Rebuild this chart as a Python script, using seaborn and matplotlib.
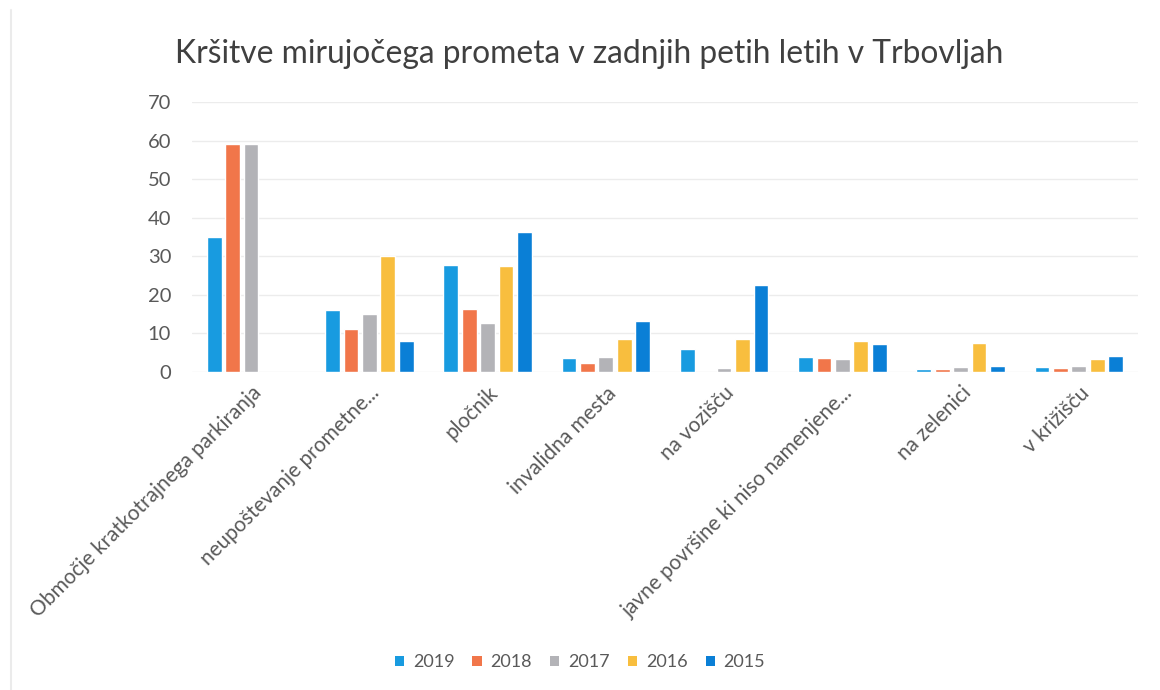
import matplotlib
matplotlib.use("Agg")
import matplotlib.pyplot as plt
import seaborn as sns
import pandas as pd
from matplotlib.lines import Line2D
from matplotlib.patches import Patch

categories = [
    "Območje kratkotrajnega parkiranja",
    "neupoštevanje prometne...",
    "pločnik",
    "invalidna mesta",
    "na vozišču",
    "javne površine ki niso namenjene...",
    "na zelenici",
    "v križišču",
]
years = ["2019", "2018", "2017", "2016", "2015"]
v2019 = [35, 16, 27.6, 3.6, 5.9, 3.8, 0.7, 1.3]
v2018 = [59, 11, 16.4, 2.2, 0, 3.5, 0.8, 1]
v2017 = [59, 15, 12.7, 3.8, 1, 3.2, 1.1, 1.5]
v2016 = [0, 30, 27.5, 8.5, 8.4, 8.1, 7.4, 3.2]
v2015 = [0, 8, 36.4, 13.2, 22.4, 7.1, 1.5, 4.1]
colors = ["#189be0", "#f1764a", "#b3b3b7", "#f8be3e", "#0a7fd6"]

series = {"2019": v2019, "2018": v2018, "2017": v2017, "2016": v2016, "2015": v2015}
rows = []
for y in years:
    for c, v in zip(categories, series[y]):
        rows.append({"cat": c, "year": y, "val": v})
df = pd.DataFrame(rows)

sns.set_theme(style="white")
plt.rcParams["font.family"] = ["Lato", "DejaVu Sans"]

fig = plt.figure(figsize=(11.6, 6.9), dpi=100)
ax = fig.add_axes([0.1655, 0.4613, 0.8155, 0.3907])
sns.barplot(data=df, x="cat", y="val", hue="year", hue_order=years,
            order=categories, palette=colors, saturation=1,
            width=0.78, gap=0.2, ax=ax, legend=False, errorbar=None)

ax.set_ylim(0, 70)
ax.set_yticks(range(0, 71, 10))
ax.set_xlim(-0.5, len(categories) - 0.5)
ax.yaxis.grid(True, color="#ececec", linewidth=1)
ax.set_axisbelow(True)
for s in ax.spines.values():
    s.set_visible(False)
ax.set_xlabel("")
ax.set_ylabel("")
ax.tick_params(axis="y", labelsize=14.5, colors="#595959", pad=15, length=0)
ax.tick_params(axis="x", length=0, pad=8)
ax.set_xticks(range(len(categories)))
ax.set_xticklabels(categories, rotation=45, ha="right", rotation_mode="anchor",
                   fontsize=15, color="#595959")

fig.text(0.508, 0.922, "Kršitve mirujočega prometa v zadnjih petih letih v Trbovljah",
         ha="center", va="center", fontsize=22.9, color="#404040")

handles = [Patch(facecolor=c, edgecolor="none") for c in colors]
fig.legend(handles, years, loc="center", bbox_to_anchor=(0.5, 0.040), ncol=5,
           frameon=False, fontsize=13, labelcolor="#595959",
           handlelength=0.5, handleheight=0.5, handletextpad=0.5, columnspacing=1.0)

fig.add_artist(Line2D([0.0095, 0.0095], [0.0, 0.985], color="#ebebeb", linewidth=1.5,
                      transform=fig.transFigure))

fig.savefig("out.png", dpi=100, facecolor="white")
